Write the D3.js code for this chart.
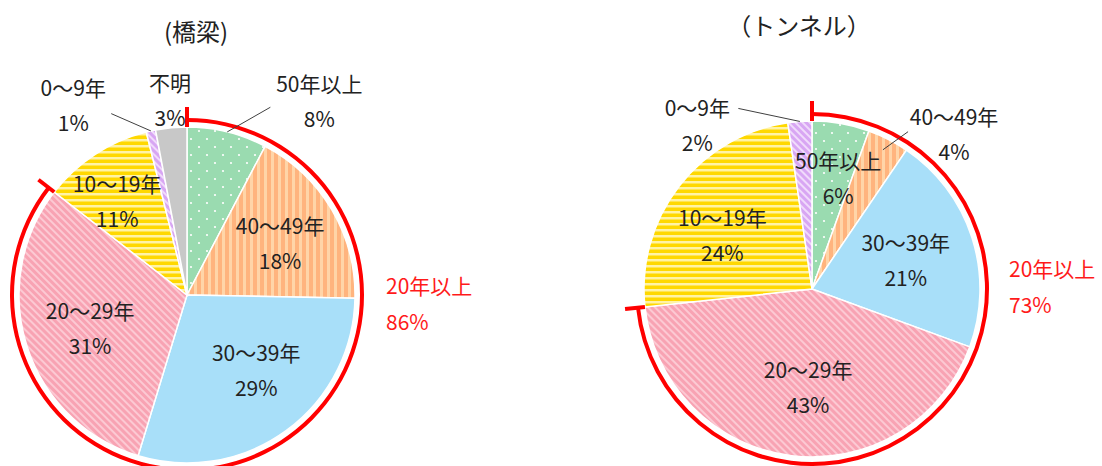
<!DOCTYPE html>
<html>
<head>
<meta charset="utf-8">
<title>供用年数</title>
<script src="https://cdn.jsdelivr.net/npm/d3@7"></script>
<style>
  body { margin: 0; background: #fff; }
  text { font-family: "Noto Sans CJK JP", "Noto Sans", sans-serif; fill: #222; }
</style>
</head>
<body>
<div id="chart"></div>
<script>
// --- data (percent shares, clockwise from 12 o'clock) ---
var bridgeCategories = ["50年以上", "40～49年", "30～39年", "20～29年", "10～19年", "0～9年", "不明"];
var bridgeValues     = [7.7, 17.6, 29.4, 30.8, 10.6, 0.9, 3.0];
var tunnelCategories = ["50年以上", "40～49年", "30～39年", "20～29年", "10～19年", "0～9年"];
var tunnelValues     = [5.5, 4.0, 21.1, 42.7, 24.4, 2.3];
var titles = ["(橋梁)", "（トンネル）"];
var groupName = "20年以上";
var groupSize = 4;   // first four categories are "20 years or more"

// --- layout ---
var width = 1102, height = 466;
var radius = 168, ringRadius = 175;
var labelSize = "21px";

var fills = {
    "50年以上": "url(#pat-green)",
    "40～49年": "url(#pat-orange)",
    "30～39年": "#a8dff9",
    "20～29年": "url(#pat-pink)",
    "10～19年": "url(#pat-yellow)",
    "0～9年": "url(#pat-purple)",
    "不明": "#c8c8c8"
};

// label nudges from the centroid, leader = start relative to label
var bridgeLayout = [
    {nudge: [107, -92], leader: [-49, 7], rf: 1.0},
    {nudge: [2, 1]},
    {nudge: [7, -11]},
    {nudge: [4, 0]},
    {nudge: [-12, -6]},
    {nudge: [-91, -87], leader: [38, 9], rf: 1.0},
    {nudge: [-7, -90]}
];
var tunnelLayout = [
    {nudge: [8, -7]},
    {nudge: [94, -61], leader: [-46, -2], rf: 0.93},
    {nudge: [-7, 3]},
    {nudge: [9, -8]},
    {nudge: [-6, 10]},
    {nudge: [-107, -59], leader: [41, -16], rf: 1.0}
];

var svg = d3.select("#chart").append("svg")
    .attr("width", width)
    .attr("height", height);

// patterns
var defs = svg.append("defs");
function stripes(id, size, base, light, lightSize, angle) {
    var p = defs.append("pattern")
        .attr("id", id)
        .attr("patternUnits", "userSpaceOnUse")
        .attr("width", size).attr("height", size)
        .attr("patternTransform", "rotate(" + angle + ")");
    p.append("rect").attr("width", size).attr("height", size).attr("fill", base);
    p.append("rect").attr("width", lightSize).attr("height", size).attr("fill", light);
}
stripes("pat-orange", 7, "#ffb47e", "#ffd5a8", 3, 0);
stripes("pat-yellow", 6, "#ffd800", "#fff3a6", 2.5, 90);
stripes("pat-pink", 5, "#f8a3b3", "#fcc9d3", 2, -45);
stripes("pat-purple", 5, "#d8a6f3", "#f0dbfb", 2, -45);

var dots = defs.append("pattern")
    .attr("id", "pat-green")
    .attr("patternUnits", "userSpaceOnUse")
    .attr("width", 16).attr("height", 16);
dots.append("rect").attr("width", 16).attr("height", 16).attr("fill", "#9adbb0");
dots.append("circle").attr("cx", 4).attr("cy", 4).attr("r", 1.1).attr("fill", "#fff");
dots.append("circle").attr("cx", 12).attr("cy", 12).attr("r", 1.1).attr("fill", "#fff");

var pie = d3.pie().sort(null).value(function(d) { return d.value; });
var arc = d3.arc().innerRadius(0).outerRadius(radius);
var labelArc = d3.arc().innerRadius(radius * 0.63).outerRadius(radius * 0.63);

function drawPie(cx, cy, title, cats, values, layout, groupOffset) {
    var data = cats.map(function(c, i) { return {name: c, value: values[i]}; });
    var arcs = pie(data);
    var g = svg.append("g").attr("transform", "translate(" + cx + "," + cy + ")");

    g.append("text")
        .attr("x", groupOffset.title[0]).attr("y", -265)
        .attr("text-anchor", "middle")
        .attr("dominant-baseline", "central")
        .attr("font-size", "24px")
        .text(title);

    g.selectAll("path.slice")
        .data(arcs).enter()
        .append("path")
        .attr("class", "slice")
        .attr("d", arc)
        .attr("fill", function(d) { return fills[d.data.name]; })
        .attr("stroke", "#fff")
        .attr("stroke-width", 1.5);

    // red bracket for 20 years or more
    var endAngle = arcs[groupSize - 1].endAngle;
    g.append("path")
        .attr("d", d3.arc().innerRadius(ringRadius - 2).outerRadius(ringRadius + 2)
            .startAngle(0).endAngle(endAngle)())
        .attr("fill", "#ff0000");
    [0, endAngle].forEach(function(a) {
        g.append("line")
            .attr("x1", Math.sin(a) * (radius)).attr("y1", -Math.cos(a) * (radius))
            .attr("x2", Math.sin(a) * (radius + 20)).attr("y2", -Math.cos(a) * (radius + 20))
            .attr("stroke", "#ff0000")
            .attr("stroke-width", 4);
    });

    var groupPct = d3.sum(values.slice(0, groupSize));
    var gx = radius + groupOffset.group[0], gy = groupOffset.group[1];
    g.append("text").attr("x", gx).attr("y", gy).attr("dominant-baseline", "central")
        .attr("font-size", labelSize).style("fill", "#ff1a1a").text(groupName);
    g.append("text").attr("x", gx).attr("y", gy + 36).attr("dominant-baseline", "central")
        .attr("font-size", labelSize).style("fill", "#ff1a1a").text(Math.round(groupPct) + "%");

    // data labels
    arcs.forEach(function(d, i) {
        var c = labelArc.centroid(d);
        var lay = layout[i];
        var lx = c[0] + lay.nudge[0], ly = c[1] + lay.nudge[1];
        if (lay.leader) {
            var r = radius * lay.rf;
            var end = d3.arc().innerRadius(r).outerRadius(r).centroid(d);
            g.append("line")
                .attr("x1", lx + lay.leader[0]).attr("y1", ly + lay.leader[1])
                .attr("x2", end[0]).attr("y2", end[1])
                .attr("stroke", "#404040")
                .attr("stroke-width", 1);
        }
        g.append("text").attr("x", lx).attr("y", ly - 17.5)
            .attr("text-anchor", "middle").attr("dominant-baseline", "central")
            .attr("font-size", labelSize).text(d.data.name);
        g.append("text").attr("x", lx).attr("y", ly + 17.5)
            .attr("text-anchor", "middle").attr("dominant-baseline", "central")
            .attr("font-size", labelSize).text(Math.round(d.data.value) + "%");
    });
}

drawPie(187, 295, titles[0], bridgeCategories, bridgeValues, bridgeLayout,
    {title: [9], group: [31, -10]});
drawPie(812, 289, titles[1], tunnelCategories, tunnelValues, tunnelLayout,
    {title: [-13], group: [29, -21]});
</script>
</body>
</html>
